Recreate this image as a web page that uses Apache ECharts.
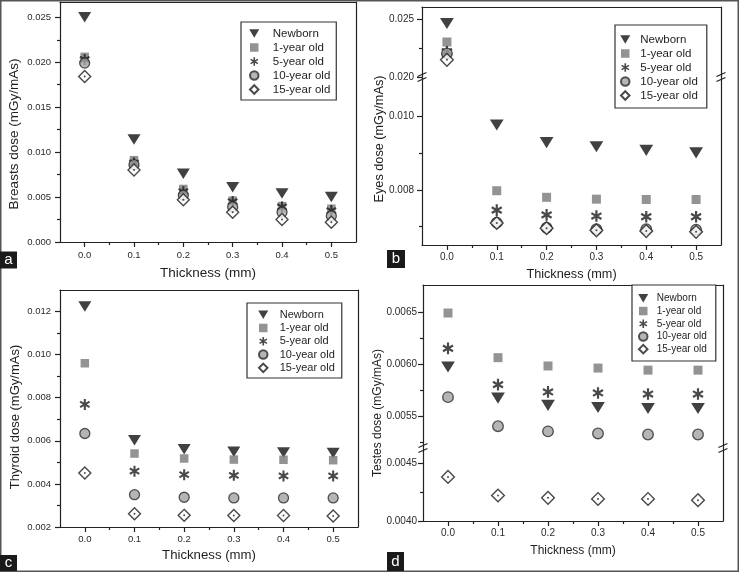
<!DOCTYPE html>
<html><head><meta charset="utf-8">
<script src="https://cdn.jsdelivr.net/npm/echarts@6/dist/echarts.min.js"></script>
<style>html,body{margin:0;padding:0;background:#fff}#chart{width:739px;height:572px}</style>
</head><body><div id="chart"></div>
<script>
// ---------- data ----------
const thickness = [0.0, 0.1, 0.2, 0.3, 0.4, 0.5];
const groups = ['Newborn', '1-year old', '5-year old', '10-year old', '15-year old'];
const xTicks = [0.0, 0.1, 0.2, 0.3, 0.4, 0.5];
const xMinorTicks = [0.05, 0.15, 0.25, 0.35, 0.45];

// (a) Breasts dose (mGy/mAs)
const breastsNewborn = [0.0250, 0.0114, 0.0076, 0.0061, 0.0054, 0.0050];
const breasts1Year   = [0.0206, 0.0091, 0.0059, 0.0046, 0.0040, 0.0037];
const breasts5Year   = [0.0203, 0.0088, 0.0056, 0.0045, 0.0039, 0.0035];
const breasts10Year  = [0.0199, 0.0086, 0.0052, 0.0039, 0.0033, 0.0029];
const breasts15Year  = [0.0184, 0.0080, 0.0047, 0.0033, 0.0025, 0.0022];

// (b) Eyes dose (mGy/mAs)
const eyesNewborn = [0.02466, 0.00977, 0.00929, 0.00918, 0.00908, 0.00901];
const eyes1Year   = [0.02305, 0.00798, 0.00780, 0.00775, 0.00774, 0.00774];
const eyes5Year   = [0.02220, 0.00745, 0.00732, 0.00729, 0.00727, 0.00727];
const eyes10Year  = [0.02205, 0.00711, 0.00697, 0.00693, 0.00693, 0.00692];
const eyes15Year  = [0.02150, 0.00710, 0.00696, 0.00690, 0.00688, 0.00686];

// (c) Thyroid dose (mGy/mAs)
const thyroidNewborn = [0.01223, 0.00603, 0.00561, 0.00549, 0.00546, 0.00544];
const thyroid1Year   = [0.00960, 0.00541, 0.00518, 0.00513, 0.00512, 0.00510];
const thyroid5Year   = [0.00769, 0.00459, 0.00443, 0.00440, 0.00437, 0.00437];
const thyroid10Year  = [0.00634, 0.00350, 0.00338, 0.00335, 0.00335, 0.00335];
const thyroid15Year  = [0.00451, 0.00262, 0.00254, 0.00253, 0.00253, 0.00251];

// (d) Testes dose (mGy/mAs)
const testesNewborn = [0.00597, 0.00567, 0.00560, 0.00558, 0.00557, 0.00557];
const testes1Year   = [0.00649, 0.00606, 0.00598, 0.00596, 0.00594, 0.00594];
const testes5Year   = [0.00615, 0.00580, 0.00573, 0.00572, 0.00571, 0.00571];
const testes10Year  = [0.00568, 0.00540, 0.00535, 0.00533, 0.00532, 0.00532];
const testes15Year  = [0.00438, 0.00422, 0.00420, 0.00419, 0.00419, 0.00418];

// y tick values
const breastsTicks = [0.000, 0.005, 0.010, 0.015, 0.020, 0.025];
const breastsMinor = [0.0025, 0.0075, 0.0125, 0.0175, 0.0225];
const eyesUpperTicks = [0.020, 0.025];
const eyesUpperMinor = [0.0225];
const eyesLowerTicks = [0.008, 0.010];
const eyesLowerMinor = [0.007, 0.009];
const thyroidTicks = [0.002, 0.004, 0.006, 0.008, 0.010, 0.012];
const thyroidMinor = [0.003, 0.005, 0.007, 0.009, 0.011];
const testesUpperTicks = [0.0055, 0.0060, 0.0065];
const testesUpperMinor = [0.00525, 0.00575, 0.00625];
const testesLowerTicks = [0.0040, 0.0045];
const testesLowerMinor = [0.00425];

// ---------- styling ----------
const FONT = '"Liberation Sans", Arial, sans-serif';
const AX = '#222';
const AXW = 1.2;
const TRI = 'path://M0,0L10,0L5,8.5Z';
const SQR = 'path://M0,0L10,0L10,10L0,10Z';
const DIA = 'path://M5,0L10,5L5,10L0,5Z';
const AST = 'path://M-0.95,-5L0.95,-5L0.95,5L-0.95,5Z M3.85,3.33L-4.8,-1.67L-3.85,-3.33L4.8,1.67Z M-4.8,1.67L3.85,-3.33L4.8,-1.67L-3.85,3.33Z';

function markerFor(idx, k) {
  const m = [
    {symbol: TRI, size: [13 * k, 10.5 * k], itemStyle: {color: '#111'}},
    {symbol: SQR, size: 8.5 * k, itemStyle: {color: '#787878'}},
    {symbol: AST, size: [10.5 * k, 11 * k], itemStyle: {color: '#1c1c1c'}},
    {symbol: 'circle', size: 10 * k, itemStyle: {color: '#a2a2a2', borderColor: '#2a2a2a', borderWidth: 1.3}},
    {symbol: DIA, size: 12 * k, itemStyle: {color: '#fff', borderColor: '#1c1c1c', borderWidth: 1.4}}
  ];
  return m[idx];
}

const panelValues = {
  a: [breastsNewborn, breasts1Year, breasts5Year, breasts10Year, breasts15Year],
  b: [eyesNewborn, eyes1Year, eyes5Year, eyes10Year, eyes15Year],
  c: [thyroidNewborn, thyroid1Year, thyroid5Year, thyroid10Year, thyroid15Year],
  d: [testesNewborn, testes1Year, testes5Year, testes10Year, testes15Year]
};

const segments = [
  {panel: 'a', left: 60, top: 2, width: 296, height: 240, min: 0, max: 0.0267, ticks: breastsTicks, minor: breastsMinor,
   dec: 3, font: 9.5, frameTop: true, bottom: true, lo: -1, hi: 1, k: 1, xm: 8, ym: 9},
  {panel: 'b', left: 422, top: 7, width: 299, height: 70, min: 0.020, max: 0.0261, ticks: eyesUpperTicks, minor: eyesUpperMinor,
   dec: 3, font: 10, frameTop: true, bottom: false, lo: 0.015, hi: 1, k: 1.06, xm: 7, ym: 8},
  {panel: 'b', left: 422, top: 77, width: 299, height: 168, min: 0.0065, max: 0.01108, ticks: eyesLowerTicks, minor: eyesLowerMinor,
   dec: 3, font: 10, frameTop: false, bottom: true, lo: -1, hi: 0.015, k: 1.06, xm: 7, ym: 8},
  {panel: 'c', left: 60, top: 290, width: 298, height: 237, min: 0.002, max: 0.0130, ticks: thyroidTicks, minor: thyroidMinor,
   dec: 3, font: 9.5, frameTop: true, bottom: true, lo: -1, hi: 1, k: 1, xm: 7, ym: 9},
  {panel: 'd', left: 423, top: 285, width: 300, height: 163, min: 0.00519, max: 0.00676, ticks: testesUpperTicks, minor: testesUpperMinor,
   dec: 4, font: 10, frameTop: true, bottom: false, lo: 0.005, hi: 1, k: 1.06, xm: 7, ym: 6},
  {panel: 'd', left: 423, top: 448, width: 300, height: 73, min: 0.0040, max: 0.00463, ticks: testesLowerTicks, minor: testesLowerMinor,
   dec: 4, font: 10, frameTop: false, bottom: true, lo: -1, hi: 0.005, k: 1.06, xm: 7.5, ym: 6}
];

const grids = [], xAxes = [], yAxes = [], series = [], dotSeries = [];
segments.forEach((s, i) => {
  grids.push({left: s.left, top: s.top, width: s.width, height: s.height, show: false});
  const lbl = {fontSize: s.font, color: '#2a2a2a', fontFamily: FONT};
  const base = {gridIndex: i, type: 'value', splitLine: {show: false}};
  // x axes: main (bottom), minor ticks (bottom), frame (top)
  xAxes.push(Object.assign({}, base, {position: 'bottom', min: -0.05, max: 0.55, show: s.bottom,
    axisLine: {show: true, onZero: false, lineStyle: {color: AX, width: AXW}},
    axisTick: {show: true, customValues: xTicks, length: 5, lineStyle: {color: AX, width: AXW}},
    axisLabel: Object.assign({show: true, customValues: xTicks, margin: s.xm, formatter: v => v.toFixed(1)}, lbl)}));
  xAxes.push(Object.assign({}, base, {position: 'bottom', min: -0.05, max: 0.55, show: s.bottom,
    axisLine: {show: false, onZero: false},
    axisTick: {show: true, customValues: xMinorTicks, length: 3, lineStyle: {color: AX, width: AXW}},
    axisLabel: {show: false}}));
  xAxes.push(Object.assign({}, base, {position: 'top', min: -0.05, max: 0.55, show: s.frameTop,
    axisLine: {show: true, onZero: false, lineStyle: {color: AX, width: AXW}},
    axisTick: {show: false}, axisLabel: {show: false}}));
  // y axes: main (left), minor (left), frame (right)
  yAxes.push(Object.assign({}, base, {position: 'left', min: s.min, max: s.max,
    axisLine: {show: true, onZero: false, lineStyle: {color: AX, width: AXW}},
    axisTick: {show: true, customValues: s.ticks, length: 5, lineStyle: {color: AX, width: AXW}},
    axisLabel: Object.assign({show: true, customValues: s.ticks, margin: s.ym, formatter: v => v.toFixed(s.dec)}, lbl)}));
  yAxes.push(Object.assign({}, base, {position: 'left', min: s.min, max: s.max,
    axisLine: {show: false, onZero: false},
    axisTick: {show: true, customValues: s.minor, length: 3, lineStyle: {color: AX, width: AXW}},
    axisLabel: {show: false}}));
  yAxes.push(Object.assign({}, base, {position: 'right', min: s.min, max: s.max,
    axisLine: {show: true, onZero: false, lineStyle: {color: AX, width: AXW}},
    axisTick: {show: false}, axisLabel: {show: false}}));

  const vals = panelValues[s.panel];
  groups.forEach((g, gi) => {
    const pts = [];
    thickness.forEach((t, ti) => {
      const v = vals[gi][ti];
      if (v > s.lo && v <= s.hi) pts.push([t, v]);
    });
    const mk = markerFor(gi, s.k);
    series.push({type: 'scatter', name: g, xAxisIndex: 3 * i, yAxisIndex: 3 * i, data: pts,
      symbol: mk.symbol, symbolSize: mk.size, itemStyle: mk.itemStyle, clip: false});
    if (gi === 4) {
      dotSeries.push({type: 'scatter', name: g, xAxisIndex: 3 * i, yAxisIndex: 3 * i, data: pts,
        symbol: 'circle', symbolSize: 2, itemStyle: {color: '#222'}, silent: true, clip: false});
    }
  });
});

function legendAt(left, top, pad, iconW, lineH, fontSize) {
  return {show: true, orient: 'vertical', left: left, top: top, padding: pad, itemGap: 1,
    itemWidth: iconW, itemHeight: 8.5, borderColor: '#333', borderWidth: 1.2, backgroundColor: '#fff',
    data: groups, selectedMode: false, z: 10,
    textStyle: {fontSize: fontSize, lineHeight: lineH, color: '#1e1e1e', fontFamily: FONT}};
}

function titleText(x, y, text, size, vertical) {
  return {type: 'text', x: x, y: y, rotation: vertical ? Math.PI / 2 : 0, z: 100,
    style: {text: text, fill: '#1e1e1e', font: size + 'px ' + FONT, align: 'center', verticalAlign: 'middle'}};
}
function panelTag(x, y, w, h, letter) {
  return {type: 'group', z: 100, children: [
    {type: 'rect', shape: {x: x, y: y, width: w, height: h}, style: {fill: '#1a1a1a'}},
    {type: 'text', x: x + w / 2, y: y + h / 2, style: {text: letter, fill: '#fff', font: '15px ' + FONT, align: 'center', verticalAlign: 'middle'}}
  ]};
}
function breakMark(x, y) {
  return {type: 'group', z: 100, children: [
    {type: 'rect', shape: {x: x - 1.5, y: y - 2, width: 3, height: 4}, style: {fill: '#fff'}},
    {type: 'line', shape: {x1: x - 4.5, y1: y - 0.5, x2: x + 4.5, y2: y - 4.5}, style: {stroke: AX, lineWidth: 1.1}},
    {type: 'line', shape: {x1: x - 4.5, y1: y + 4.5, x2: x + 4.5, y2: y + 0.5}, style: {stroke: AX, lineWidth: 1.1}}
  ]};
}

const option = {
  animation: false,
  backgroundColor: '#fff',
  grid: grids,
  xAxis: xAxes,
  yAxis: yAxes,
  legend: [
    legendAt(241, 22, [5, 6, 4, 8], 27, 13, 11.5),
    legendAt(615, 25, [8, 9, 6, 5], 20, 13, 11.5),
    legendAt(247, 303, [5.5, 7, 4, 11], 23, 12.3, 11),
    legendAt(632, 285, [7.5, 9, 6, 6], 17, 11.7, 10)
  ],
  series: series.concat(dotSeries),
  graphic: {elements: [
    {type: 'rect', z: 0, shape: {x: 0.75, y: 0.75, width: 737.5, height: 570.5}, style: {fill: 'none', stroke: '#555', lineWidth: 1.5}},
    titleText(208, 273, 'Thickness (mm)', 13.5, false),
    titleText(14.5, 134, 'Breasts dose (mGy/mAs)', 13.5, true),
    titleText(571.5, 274, 'Thickness (mm)', 12.7, false),
    titleText(379, 139, 'Eyes dose (mGy/mAs)', 12.7, true),
    titleText(209, 555, 'Thickness (mm)', 13.2, false),
    titleText(15, 417, 'Thyroid dose (mGy/mAs)', 13, true),
    titleText(573, 551, 'Thickness (mm)', 12, false),
    titleText(378, 413, 'Testes dose (mGy/mAs)', 12, true),
    panelTag(0, 251.5, 17, 17, 'a'),
    panelTag(387, 250, 18, 18, 'b'),
    panelTag(0, 555, 17, 16, 'c'),
    panelTag(387, 552, 17, 19, 'd'),
    breakMark(422, 77), breakMark(721, 77),
    breakMark(423, 448), breakMark(723, 448)
  ]}
};

const chart = echarts.init(document.getElementById('chart'), null, {renderer: 'canvas'});
chart.setOption(option);
</script>
</body></html>
